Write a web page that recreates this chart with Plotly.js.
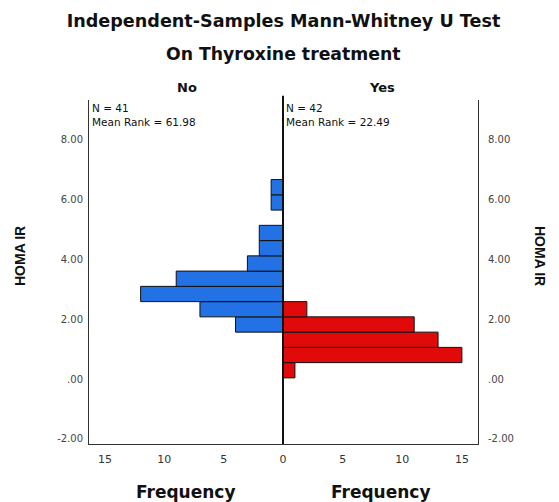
<!DOCTYPE html>
<html>
<head>
<meta charset="utf-8">
<script src="https://cdn.plot.ly/plotly-3.0.1.min.js"></script>
<style>html,body{margin:0;padding:0;background:#fff;}#chart{width:559px;height:502px;}</style>
</head>
<body>
<div id="chart"></div>
<script>
// HOMA IR bin centres (bin width 0.51)
var noBinCenters = [1.825, 2.335, 2.845, 3.355, 3.865, 4.375, 4.885, 5.395, 5.905, 6.415];
var noCounts     = [4, 7, 12, 9, 3, 2, 2, 0, 1, 1];
var yesBinCenters = [0.295, 0.805, 1.315, 1.825, 2.335];
var yesCounts     = [1, 15, 13, 11, 2];
var binWidth = 0.51;

var yTickVals = [8, 6, 4, 2, 0, -2];
var yTickText = ["8.00", "6.00", "4.00", "2.00", ".00", "-2.00"];
var leftXTicks = [15, 10, 5];
var rightXTicks = [0, 5, 10, 15];

var noLabel = "N = 41<br>Mean Rank = 61.98";
var yesLabel = "N = 42<br>Mean Rank = 22.49";

var F = "Liberation Sans, Arial, sans-serif";
var D = "DejaVu Sans, sans-serif";
var split = 194/389;

var traces = [
  {type:'bar', orientation:'h', y:noBinCenters, x:noCounts, width:binWidth,
   xaxis:'x', yaxis:'y', marker:{color:'#2272E6', line:{color:'#111', width:1}}, hoverinfo:'none'},
  {type:'bar', orientation:'h', y:yesBinCenters, x:yesCounts, width:binWidth,
   xaxis:'x2', yaxis:'y2', marker:{color:'#E00A0A', line:{color:'#111', width:1}}, hoverinfo:'none'}
];

var yRange = [-2.17, 9.33];
var layout = {
  width:559, height:502,
  margin:{l:89, r:81, t:100, b:58},
  paper_bgcolor:'#fff', plot_bgcolor:'#fff',
  showlegend:false, bargap:0,
  font:{family:F, color:'#111'},
  title:{text:'<b>Independent-Samples Mann-Whitney U Test</b>', font:{size:17.6, family:D, color:'#111'},
         x:0.5, xref:'paper', xanchor:'center', y:0.959, yanchor:'middle'},
  xaxis:{domain:[0, split], range:[16.35, 0], tickvals:leftXTicks, ticktext:leftXTicks.map(String),
         showgrid:false, zeroline:false, showline:true, linecolor:'#333', linewidth:1, ticks:'',
         tickfont:{size:11, color:'#333', family:D}, anchor:'y', fixedrange:true, ticklabelstandoff:5},
  xaxis2:{domain:[split, 1], range:[0, 16.35], tickvals:rightXTicks, ticktext:rightXTicks.map(String),
         showgrid:false, zeroline:false, showline:true, linecolor:'#333', linewidth:1, ticks:'',
         tickfont:{size:11, color:'#333', family:D}, anchor:'y2', fixedrange:true, ticklabelstandoff:5},
  yaxis:{range:yRange, tickvals:yTickVals, ticktext:yTickText, showgrid:false, zeroline:false,
         showline:true, linecolor:'#333', linewidth:1, ticks:'', side:'left', anchor:'x',
         tickfont:{size:10, color:'#444', family:D}, ticklabelstandoff:3},
  yaxis2:{range:yRange, tickvals:yTickVals, ticktext:yTickText, showgrid:false, zeroline:false,
         showline:true, linecolor:'#333', linewidth:1, ticks:'', side:'right', anchor:'x2',
         tickfont:{size:10, color:'#444', family:D}, ticklabelstandoff:7},
  shapes:[
    {type:'line', xref:'paper', yref:'paper', x0:split, x1:split, y0:0, y1:1.012, line:{color:'#111', width:2}}
  ],
  annotations:[
    {text:'<b>On Thyroxine treatment</b>', xref:'paper', yref:'paper', x:0.5, y:1.0+(100-54)/344, yanchor:'middle', xanchor:'center', showarrow:false, font:{size:17.3, family:D}},
    {text:'<b>No</b>', xref:'paper', yref:'paper', x:(187-89)/389, y:1+(100-88)/344, yanchor:'middle', xanchor:'center', showarrow:false, font:{size:13, family:D}},
    {text:'<b>Yes</b>', xref:'paper', yref:'paper', x:(382-89)/389, y:1+(100-88)/344, yanchor:'middle', xanchor:'center', showarrow:false, font:{size:13, family:D}},
    {text:noLabel, xref:'paper', yref:'paper', x:(90-89)/389, y:1.0, xanchor:'left', yanchor:'top', align:'left', showarrow:false, font:{size:10.5, family:D, color:'#111'}},
    {text:yesLabel, xref:'paper', yref:'paper', x:(284-89)/389, y:1.0, xanchor:'left', yanchor:'top', align:'left', showarrow:false, font:{size:10.5, family:D, color:'#111'}},
    {text:'<b>Frequency</b>', xref:'paper', yref:'paper', x:(186-89)/389, y:-(492-444)/344, xanchor:'center', yanchor:'middle', showarrow:false, font:{size:17, family:D}},
    {text:'<b>Frequency</b>', xref:'paper', yref:'paper', x:(381-89)/389, y:-(492-444)/344, xanchor:'center', yanchor:'middle', showarrow:false, font:{size:17, family:D}},
    {text:'<b>HOMA IR</b>', xref:'paper', yref:'paper', x:(20-89)/389, y:(444-256)/344, xanchor:'center', yanchor:'middle', textangle:-90, showarrow:false, font:{size:14, family:F}},
    {text:'<b>HOMA IR</b>', xref:'paper', yref:'paper', x:(540-89)/389, y:(444-256)/344, xanchor:'center', yanchor:'middle', textangle:90, showarrow:false, font:{size:14, family:F}}
  ]
};
Plotly.newPlot('chart', traces, layout, {staticPlot:true, displayModeBar:false});
</script>
</body>
</html>
